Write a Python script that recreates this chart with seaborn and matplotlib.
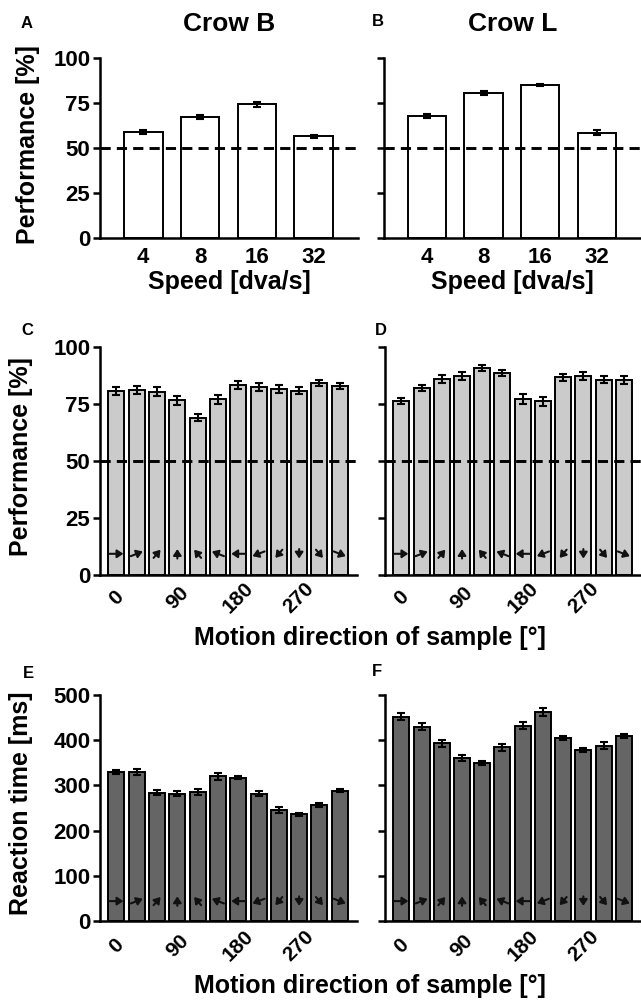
import numpy as np
import pandas as pd
import matplotlib
matplotlib.use("Agg")
import matplotlib.pyplot as plt
import matplotlib.transforms as mtransforms
import seaborn as sns

# ---------------- data ----------------
speeds = ["4", "8", "16", "32"]
perf_speed_B = [59.0, 67.2, 74.2, 56.4]
err_speed_B = [1.0, 1.0, 1.5, 1.0]
perf_speed_L = [67.8, 80.6, 84.9, 58.5]
err_speed_L = [1.0, 1.2, 0.6, 1.5]

directions = [0, 30, 60, 90, 120, 150, 180, 210, 240, 270, 300, 330]
dir_ticklabels = ["0", "90", "180", "270"]
perf_dir_B = [80.6, 81.0, 80.3, 76.6, 69.0, 77.1, 83.5, 82.3, 81.5, 80.9, 84.2, 82.9]
err_dir_B = [1.8, 1.8, 2.0, 2.0, 1.5, 2.0, 1.8, 1.7, 1.8, 1.6, 1.5, 1.5]
perf_dir_L = [76.4, 82.2, 85.8, 87.2, 90.8, 88.6, 77.2, 76.2, 86.7, 87.3, 85.7, 85.5]
err_dir_L = [1.3, 1.3, 1.8, 1.7, 1.5, 1.5, 2.0, 2.0, 1.4, 1.8, 1.7, 1.9]
rt_dir_B = [330, 330, 284, 282, 285, 320, 317, 282, 246, 236, 256, 288]
rt_err_B = [5, 7, 6, 6, 6, 7, 3, 5, 6, 4, 4, 3]
rt_dir_L = [452, 430, 393, 361, 349, 384, 432, 462, 405, 378, 388, 409]
rt_err_L = [8, 7, 8, 6, 4, 7, 8, 9, 5, 5, 7, 5]

# ---------------- style ----------------
sns.set_style("ticks")
plt.rcParams["font.family"] = ["Liberation Sans", "DejaVu Sans"]
plt.rcParams["font.weight"] = "bold"
plt.rcParams["axes.labelweight"] = "bold"
plt.rcParams["text.color"] = "black"
plt.rcParams["axes.labelcolor"] = "black"
plt.rcParams["xtick.color"] = "black"
plt.rcParams["ytick.color"] = "black"
plt.rcParams["axes.edgecolor"] = "black"

W, H = 641, 1000
fig = plt.figure(figsize=(W / 100, H / 100), dpi=100)


def px_axes(left, right, top, bottom):
    return fig.add_axes([left / W, 1 - bottom / H, (right - left) / W, (bottom - top) / H])


SPINE_LW = 1.8
LABEL_FS = 18
TICK_FS = 16


def style_axes(ax, ylim, yticks, show_labels):
    sns.despine(ax=ax)
    for s in ("left", "bottom"):
        ax.spines[s].set_linewidth(SPINE_LW)
        ax.spines[s].set_color("black")
    ax.set_ylim(*ylim)
    ax.set_yticks(yticks)
    ax.tick_params(axis="y", length=5, width=SPINE_LW, color="black", labelcolor="black",
                   labelsize=TICK_FS, pad=2, labelleft=show_labels)
    ax.tick_params(axis="x", length=0, labelsize=TICK_FS, labelcolor="black")
    ax.set_ylabel("")
    ax.set_xlabel("")
    for lab in ax.get_yticklabels():
        lab.set_fontweight("bold")


def draw_bars(ax, cats, vals, errs, color, width):
    df = pd.DataFrame({"cat": cats, "val": vals})
    sns.barplot(data=df, x="cat", y="val", order=cats, color=color, saturation=1,
                edgecolor="black", linewidth=1.4, width=width, ax=ax, zorder=2)
    ax.errorbar(np.arange(len(cats)), vals, yerr=errs, fmt="none", ecolor="black",
                elinewidth=1.5, capsize=3, capthick=1.5, zorder=6)


def draw_arrows(ax, yval):
    for i, d in enumerate(directions):
        th = np.deg2rad(d)
        hx, hy = 5.0 * np.cos(th), 3.4 * np.sin(th)
        head = mtransforms.offset_copy(ax.transData, fig=fig, x=hx, y=hy, units="points")
        tail = mtransforms.offset_copy(ax.transData, fig=fig, x=-hx, y=-hy, units="points")
        ax.annotate("", xy=(i, yval), xycoords=head, xytext=(i, yval), textcoords=tail,
                    arrowprops=dict(arrowstyle="-|>,head_length=0.45,head_width=0.3",
                                    color="#111111", lw=1.5, shrinkA=0, shrinkB=0,
                                    mutation_scale=8), zorder=7)


def dir_xticks(ax, pad):
    ax.set_xticks([0, 3, 6, 9])
    ax.set_xticklabels(dir_ticklabels, rotation=45, ha="center", va="center",
                       fontsize=15, fontweight="bold", color="black")
    ax.tick_params(axis="x", length=0, pad=pad)


# ---------------- row 1: speed ----------------
axA = px_axes(100, 358, 58, 238)
axB = px_axes(384, 641, 58, 238)
for ax, vals, errs, title, show in ((axA, perf_speed_B, err_speed_B, "Crow B", True),
                                    (axB, perf_speed_L, err_speed_L, "Crow L", False)):
    draw_bars(ax, speeds, vals, errs, "white", 0.68)
    ax.axhline(50, color="black", lw=2.1, ls=(0, (3.5, 2.1)), zorder=4)
    style_axes(ax, (0, 100), [0, 25, 50, 75, 100], show)
    ax.set_xlim(-0.76, 3.78)
    for lab in ax.get_xticklabels():
        lab.set_fontweight("bold")
    ax.tick_params(axis="x", pad=6.5)
    ax.set_title(title, fontsize=19, fontweight="bold", pad=0, color="black",
                 y=1.0 + 27 / 180)
    ax.set_xlabel("Speed [dva/s]", fontsize=LABEL_FS, fontweight="bold")
    ax.xaxis.set_label_coords(0.5, -0.18)
axA.set_ylabel("Performance [%]", fontsize=LABEL_FS, fontweight="bold")
axA.yaxis.set_label_coords(-0.233, 0.52)

# ---------------- row 2: direction performance ----------------
axC = px_axes(100, 357, 347, 575)
axD = px_axes(385, 641, 347, 575)
for ax, vals, errs, show in ((axC, perf_dir_B, err_dir_B, True),
                             (axD, perf_dir_L, err_dir_L, False)):
    draw_bars(ax, [str(d) for d in directions], vals, errs, "#cbcbcb", 0.79)
    ax.axhline(50, color="black", lw=2.1, ls=(0, (3.5, 2.1)), zorder=4)
    style_axes(ax, (0, 100), [0, 25, 50, 75, 100], show)
    ax.set_xlim(-0.81, 11.85)
    dir_xticks(ax, 16.5)
    draw_arrows(ax, 9.3)
axC.set_ylabel("Performance [%]", fontsize=LABEL_FS, fontweight="bold")
axC.yaxis.set_label_coords(-0.26, 0.52)

# ---------------- row 3: reaction time ----------------
axE = px_axes(100, 357, 695, 921)
axF = px_axes(385, 641, 695, 921)
for ax, vals, errs, show in ((axE, rt_dir_B, rt_err_B, True),
                             (axF, rt_dir_L, rt_err_L, False)):
    draw_bars(ax, [str(d) for d in directions], vals, errs, "#656565", 0.79)
    style_axes(ax, (0, 500), [0, 100, 200, 300, 400, 500], show)
    ax.set_xlim(-0.81, 11.85)
    dir_xticks(ax, 18)
    draw_arrows(ax, 44)
axE.set_ylabel("Reaction time [ms]", fontsize=LABEL_FS, fontweight="bold")
axE.yaxis.set_label_coords(-0.26, 0.52)

# shared x labels for rows 2 and 3
fig.text(370 / W, 1 - 638 / H, "Motion direction of sample [°]", ha="center", va="center",
         fontsize=LABEL_FS, fontweight="bold", color="black")
fig.text(370 / W, 1 - 986 / H, "Motion direction of sample [°]", ha="center", va="center",
         fontsize=LABEL_FS, fontweight="bold", color="black")

# panel letters
for letter, x, y in (("A", 27, 23), ("B", 378, 22), ("C", 27, 330), ("D", 381, 330),
                     ("E", 28, 673), ("F", 377, 672)):
    fig.text(x / W, 1 - y / H, letter, ha="center", va="center", fontsize=12,
             fontweight="bold", color="black")

fig.savefig("out.png", dpi=100)
